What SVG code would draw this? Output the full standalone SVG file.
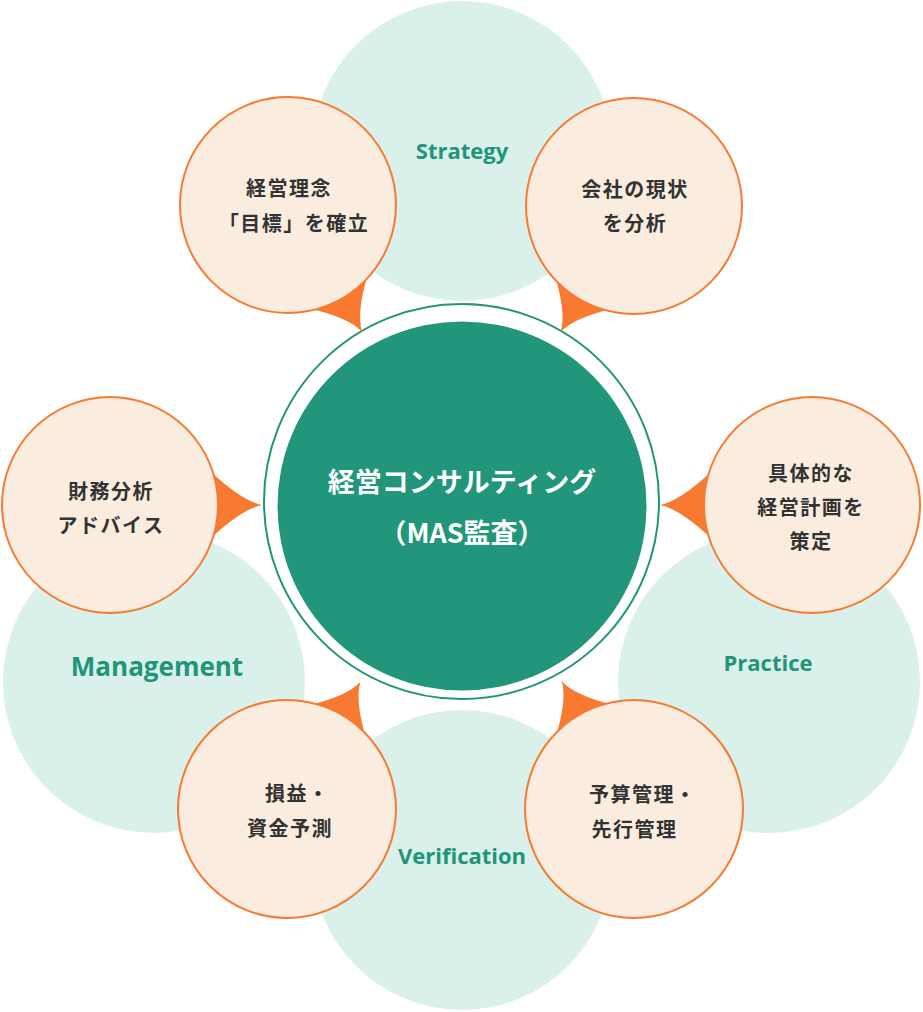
<svg xmlns="http://www.w3.org/2000/svg" xmlns:xlink="http://www.w3.org/1999/xlink" width="923" height="1012" viewBox="0 0 923 1012">
  <style>
    .bg { fill: #d9f1ea; }
    .cat { font-family: "Open Sans", "Noto Sans", sans-serif; font-weight: 700; fill: #21957a; text-anchor: middle; }
    .node { fill: #faede0; stroke: #f77a30; stroke-width: 2; }
    .spike { fill: #f77a30; }
    .lbl { font-family: "Noto Sans CJK JP", "Noto Sans", sans-serif; font-weight: 700; font-size: 20px; fill: #333333; letter-spacing: 1.5px; text-anchor: middle; }
    .ctr { font-family: "Noto Sans CJK JP", "Noto Sans", sans-serif; font-weight: 700; font-size: 27px; fill: #ffffff; text-anchor: middle; }
  </style>
  <defs>
    <path id="spikeH" d="M100,-34 Q132,-4 152,0 Q132,4 100,34 Z"/>
    <path id="spikeD" d="M100,-34 Q128,-4 147,0 Q128,4 100,34 Z"/>
  </defs>
  <rect width="923" height="1012" fill="#ffffff"/>

  <g id="categories">
    <g id="cat-strategy">
      <circle class="bg" cx="462" cy="151" r="150"/>
    </g>
    <g id="cat-management">
      <circle class="bg" cx="154" cy="682" r="151"/>
    </g>
    <g id="cat-practice">
      <circle class="bg" cx="769" cy="682" r="151"/>
    </g>
    <g id="cat-verification">
      <circle class="bg" cx="462" cy="860" r="150"/>
    </g>
  </g>

  <g id="center">
    <circle cx="461.5" cy="501.5" r="197.5" fill="#ffffff" stroke="#21957a" stroke-width="2"/>
    <circle cx="462" cy="506" r="184.5" fill="#21967a"/>
    <text class="ctr" x="462" y="492">経営コンサルティング</text>
    <text class="ctr" x="462" y="543">（MAS監査）</text>
  </g>

  <g id="connectors">
    <use xlink:href="#spikeD" class="spike" transform="translate(288,205) rotate(59.7)"/>
    <use xlink:href="#spikeD" class="spike" transform="translate(634,205) rotate(120)"/>
    <use xlink:href="#spikeH" class="spike" transform="translate(110,505) rotate(0)"/>
    <use xlink:href="#spikeH" class="spike" transform="translate(812,505) rotate(180)"/>
    <use xlink:href="#spikeD" class="spike" transform="translate(287,809) rotate(-60)"/>
    <use xlink:href="#spikeD" class="spike" transform="translate(634,809) rotate(-119.5)"/>
  </g>

  <g id="labels">
    <text class="cat" x="462" y="159" font-size="22">Strategy</text>
    <text class="cat" x="157" y="676" font-size="26">Management</text>
    <text class="cat" x="768" y="671" font-size="22">Practice</text>
    <text class="cat" x="462" y="864" font-size="22">Verification</text>
  </g>

  <g id="node-rinen">
    <circle class="node" cx="288" cy="205" r="108"/>
    <text class="lbl" x="289" y="195.5">経営理念</text>
    <text class="lbl" x="294" y="230.5">「目標」を確立</text>
  </g>
  <g id="node-genjo">
    <circle class="node" cx="634" cy="206" r="108"/>
    <text class="lbl" x="635" y="197">会社の現状</text>
    <text class="lbl" x="635" y="230.5">を分析</text>
  </g>
  <g id="node-zaimu">
    <circle class="node" cx="110" cy="505" r="108"/>
    <text class="lbl" x="111" y="499">財務分析</text>
    <text class="lbl" x="111" y="532.5">アドバイス</text>
  </g>
  <g id="node-keikaku">
    <circle class="node" cx="812" cy="505" r="108"/>
    <text class="lbl" x="811" y="480.5">具体的な</text>
    <text class="lbl" x="811" y="515">経営計画を</text>
    <text class="lbl" x="811" y="549">策定</text>
  </g>
  <g id="node-soneki">
    <circle class="node" cx="287" cy="809" r="109"/>
    <text class="lbl" x="265" y="800.5" style="text-anchor:start">損益・</text>
    <text class="lbl" x="290" y="835.5">資金予測</text>
  </g>
  <g id="node-yosan">
    <circle class="node" cx="634" cy="809" r="109"/>
    <text class="lbl" x="589" y="802" style="text-anchor:start">予算管理・</text>
    <text class="lbl" x="634.5" y="837">先行管理</text>
  </g>
</svg>
